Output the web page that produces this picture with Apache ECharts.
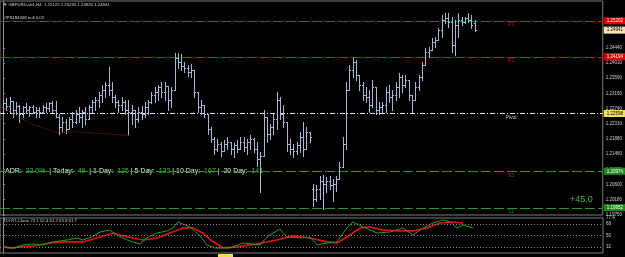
<!DOCTYPE html>
<html>
<head>
<meta charset="utf-8">
<script src="https://cdn.jsdelivr.net/npm/echarts@6.0.0/dist/echarts.min.js"></script>
<style>
  html, body { margin: 0; padding: 0; background: #000; }
  #chart { width: 625px; height: 257px; }
</style>
</head>
<body>
<div id="chart"></div>
<script>
// GBPUSD H4 bars
const opens = [
  1.2277,1.2288,1.2282,1.2296,1.2271,1.2282,1.2257,1.2277,1.2271,1.2277,1.2265,1.2271,
  1.2263,1.2279,1.2274,1.2288,1.2271,1.2251,1.2221,1.2237,1.2215,1.2243,1.2235,1.2257,
  1.2249,1.2265,1.2243,1.2277,1.2291,1.2299,1.2313,1.2327,1.2341,1.2327,1.2305,1.2293,
  1.2285,1.2291,1.2271,1.2263,1.2271,1.2243,1.2265,1.2257,1.2277,1.2293,1.2313,1.2321,
  1.2333,1.2321,1.2338,1.2299,1.2327,1.2417,1.2405,1.2394,1.2389,1.2377,1.2383,1.2321,
  1.2277,1.2285,1.2257,1.2215,1.2187,1.2159,1.2173,1.2153,1.2173,1.2181,1.2159,1.2170,
  1.2159,1.2181,1.2165,1.2179,1.2187,1.2159,1.2131,1.2139,1.2249,1.2201,1.2221,1.2243,
  1.2299,1.2257,1.2237,1.2173,1.2159,1.2153,1.2170,1.2193,1.2159,1.2209,1.2047,1.2019,
  1.2047,1.2069,1.2061,1.2069,1.2058,1.2061,1.2075,1.2109,1.2173,1.2327,1.2383,1.2405,
  1.2369,1.2341,1.2313,1.2305,1.2285,1.2333,1.2271,1.2277,1.2285,1.2321,1.2305,1.2313,
  1.2333,1.2361,1.2341,1.2355,1.2313,1.2299,1.2333,1.2361,1.2397,1.2433,1.2439,1.2461,
  1.2467,1.2495,1.2523,1.2529,1.2517,1.2453,1.2509,1.2523,1.2517,1.2529,1.2523,1.2513
];
const highs = [
  1.2299,1.2302,1.2305,1.2296,1.2291,1.2285,1.2282,1.2288,1.2282,1.2285,1.2279,1.2277,
  1.2285,1.2288,1.2293,1.2296,1.2296,1.2257,1.2249,1.2243,1.2249,1.2265,1.2271,1.2277,
  1.2271,1.2277,1.2285,1.2299,1.2307,1.2321,1.2341,1.2349,1.2391,1.2347,1.2313,1.2299,
  1.2305,1.2299,1.2299,1.2285,1.2271,1.2277,1.2282,1.2291,1.2299,1.2321,1.2333,1.2341,
  1.2347,1.2349,1.2338,1.2333,1.2431,1.2431,1.2428,1.2405,1.2397,1.2400,1.2383,1.2321,
  1.2299,1.2285,1.2257,1.2221,1.2195,1.2187,1.2179,1.2184,1.2193,1.2181,1.2176,1.2184,
  1.2193,1.2195,1.2187,1.2198,1.2190,1.2179,1.2151,1.2271,1.2249,1.2229,1.2257,1.2319,
  1.2305,1.2285,1.2237,1.2187,1.2173,1.2179,1.2209,1.2235,1.2223,1.2209,1.2061,1.2058,
  1.2083,1.2086,1.2081,1.2083,1.2075,1.2083,1.2123,1.2193,1.2347,1.2397,1.2417,1.2411,
  1.2369,1.2349,1.2333,1.2327,1.2355,1.2333,1.2291,1.2293,1.2335,1.2341,1.2327,1.2347,
  1.2375,1.2369,1.2369,1.2355,1.2313,1.2349,1.2369,1.2405,1.2445,1.2447,1.2473,1.2475,
  1.2501,1.2537,1.2543,1.2543,1.2531,1.2523,1.2543,1.2531,1.2531,1.2543,1.2537,1.2524
];
const lows = [
  1.2265,1.2271,1.2263,1.2251,1.2257,1.2235,1.2249,1.2260,1.2254,1.2260,1.2251,1.2249,
  1.2260,1.2265,1.2268,1.2263,1.2249,1.2201,1.2207,1.2204,1.2215,1.2223,1.2232,1.2237,
  1.2221,1.2229,1.2243,1.2263,1.2271,1.2279,1.2291,1.2305,1.2313,1.2291,1.2277,1.2265,
  1.2271,1.2257,1.2201,1.2229,1.2223,1.2237,1.2243,1.2249,1.2257,1.2288,1.2291,1.2299,
  1.2307,1.2299,1.2271,1.2279,1.2327,1.2389,1.2383,1.2377,1.2366,1.2363,1.2307,1.2263,
  1.2257,1.2249,1.2201,1.2181,1.2145,1.2153,1.2139,1.2153,1.2159,1.2145,1.2137,1.2151,
  1.2159,1.2153,1.2145,1.2159,1.2151,1.2111,1.2039,1.2139,1.2179,1.2187,1.2201,1.2215,
  1.2243,1.2223,1.2153,1.2145,1.2137,1.2145,1.2151,1.2139,1.2159,1.2179,1.1999,1.2013,
  1.2019,1.1991,1.2039,1.2047,1.2013,1.2041,1.2075,1.2109,1.2159,1.2327,1.2361,1.2355,
  1.2327,1.2299,1.2291,1.2265,1.2277,1.2257,1.2257,1.2263,1.2263,1.2291,1.2271,1.2299,
  1.2307,1.2321,1.2335,1.2299,1.2263,1.2299,1.2327,1.2355,1.2397,1.2419,1.2439,1.2447,
  1.2467,1.2475,1.2515,1.2503,1.2433,1.2425,1.2475,1.2509,1.2515,1.2517,1.2501,1.2492
];
const closes = [
  1.2288,1.2282,1.2296,1.2271,1.2282,1.2257,1.2277,1.2271,1.2277,1.2265,1.2271,1.2263,
  1.2279,1.2274,1.2288,1.2271,1.2251,1.2221,1.2237,1.2215,1.2243,1.2235,1.2257,1.2249,
  1.2265,1.2243,1.2277,1.2291,1.2299,1.2313,1.2327,1.2341,1.2327,1.2305,1.2293,1.2285,
  1.2291,1.2271,1.2263,1.2271,1.2243,1.2265,1.2257,1.2277,1.2293,1.2313,1.2321,1.2333,
  1.2321,1.2338,1.2299,1.2327,1.2417,1.2405,1.2394,1.2389,1.2377,1.2383,1.2321,1.2277,
  1.2285,1.2257,1.2215,1.2187,1.2159,1.2173,1.2153,1.2173,1.2181,1.2159,1.2170,1.2159,
  1.2181,1.2165,1.2179,1.2187,1.2159,1.2131,1.2139,1.2249,1.2201,1.2221,1.2243,1.2299,
  1.2257,1.2237,1.2173,1.2159,1.2153,1.2170,1.2193,1.2159,1.2209,1.2193,1.2019,1.2047,
  1.2069,1.2061,1.2069,1.2058,1.2061,1.2075,1.2109,1.2173,1.2327,1.2383,1.2405,1.2369,
  1.2341,1.2313,1.2305,1.2285,1.2333,1.2271,1.2277,1.2285,1.2321,1.2305,1.2313,1.2333,
  1.2361,1.2341,1.2355,1.2313,1.2299,1.2333,1.2361,1.2397,1.2433,1.2439,1.2461,1.2467,
  1.2495,1.2523,1.2529,1.2517,1.2453,1.2509,1.2523,1.2517,1.2529,1.2523,1.2509,1.2494
];

// pivot levels drawn across the chart
const levelNames  = ['R1', 'R3', 'Pivot', 'S3', 'S1'];
const levelPrices = [1.25202, 1.24194, 1.22598, 1.20974, 1.19952];
const lastPrice = 1.24941;

// right price scale labels
const priceTicks = [1.24440, 1.24010, 1.23590, 1.23160, 1.22740, 1.22310,
                    1.21880, 1.21460, 1.21030, 1.20600, 1.20180, 1.19750];

// dark red dotted line bottom-left  [bar index, price]
const maLine = [[-0.3, 1.2277], [9, 1.2229], [17, 1.2204], [21, 1.2209], [38.5, 1.2198]];

// TDI sub window  [bar index, value]
const tdiGreen = [
  [0,35.2],[1.2,30.5],[3.6,30.5],[6.1,35.2],[9.1,36.8],[12.1,35.2],[15.2,39.9],[19.4,43],
  [22.4,46.1],[24.2,43],[27,47.7],[29.4,55.5],[32.4,58.6],[34.5,50.8],[37.6,43],[39.4,39.9],
  [41.5,36.8],[43.6,46.1],[46.7,53.9],[49.7,57.1],[51.5,61.8],[53,71.1],[55.2,66.4],[56.7,63.3],
  [59.7,49.3],[61.8,35.2],[64.2,30.5],[68.8,30.5],[72.7,38.3],[77.9,35.2],[80,47.7],[83.9,60.2],
  [86,47.7],[90,46.1],[93,47.7],[95.2,35.2],[98.2,38.3],[101.2,39.9],[104.2,61.8],[106,71.1],
  [109.1,63.3],[113.3,53.9],[117.3,55.5],[121.2,61.8],[124.2,50.8],[127.3,61.8],[130.3,69.6],
  [133.3,74.3],[135.5,71.1],[137.6,61.8],[139.4,66.4],[142.4,61.8]
];
const tdiRed = [
  [0,32.1],[3,30.5],[5.2,32.1],[9.1,33.6],[14.2,38.3],[19.4,39.9],[24.2,39.9],[29.4,47.7],
  [33.3,53.9],[36.4,49.3],[39.4,46.1],[42.4,43],[46.7,46.1],[50.6,53.9],[54.5,61.8],[57.6,61.8],
  [60.6,53.9],[62.7,43.8],[66.7,30.5],[70.9,32.1],[77,36.8],[83,43],[87.9,49.3],[93,46.1],
  [98.2,39.9],[101.2,38.3],[104.2,47.7],[108.2,61.8],[111.2,63.3],[115.2,58.6],[119.4,57.1],
  [124.2,57.1],[128.5,61.8],[132.4,69.6],[135.5,71.1],[139.4,69.6]
];
const tdiLevels = [32, 50, 68];
const tdiTicks = [32, 50, 68, 77.4];

const BAR_COLOR = '#a6b6d6';
const FONT = 'Liberation Sans, Arial, sans-serif';

const bars = opens.map((o, i) => [i, o, highs[i], lows[i], closes[i]]);

// MT4 style OHLC bar: vertical high-low, open tick left, close tick right
function renderBar(params, api) {
  const i = api.value(0);
  const h = api.coord([i, api.value(2)]);
  const l = api.coord([i, api.value(3)]);
  const o = api.coord([i, api.value(1)]);
  const c = api.coord([i, api.value(4)]);
  const x = Math.round(h[0]) + 0.5;
  const yo = Math.round(o[1]) + 0.5;
  const yc = Math.round(c[1]) + 0.5;
  return {
    type: 'group',
    children: [
      { type: 'line', shape: { x1: x, y1: Math.round(h[1]), x2: x, y2: Math.round(l[1]) + 1 }, style: { stroke: BAR_COLOR, lineWidth: 1 } },
      { type: 'line', shape: { x1: x - 1.5, y1: yo, x2: x, y2: yo }, style: { stroke: BAR_COLOR, lineWidth: 1 } },
      { type: 'line', shape: { x1: x, y1: yc, x2: x + 1.5, y2: yc }, style: { stroke: BAR_COLOR, lineWidth: 1 } }
    ]
  };
}

const levelColors = { R1: '#d81818', R3: '#d81818', Pivot: '#e8e8e8', S3: '#28962a', S1: '#28962a' };
const levelDash = { R1: [10, 3], R3: [10, 3], Pivot: [5, 2, 1, 2], S3: [10, 3], S1: [10, 3] };
const tagBg = { R1: '#e00000', R3: '#e00000', Pivot: '#f0e060', S3: '#1e8a1e', S1: '#1e8a1e' };
const tagText = { R1: '#ffffff', R3: '#ffffff', Pivot: '#000000', S3: '#ffffff', S1: '#ffffff' };

// level lines: full width, snapped to a pixel row so they stay crisp
function renderLevel(params, api) {
  const name = levelNames[params.dataIndex];
  const y = Math.round(api.coord([0, api.value(1)])[1]) + 0.5;
  const cs = params.coordSys;
  return {
    type: 'line',
    shape: { x1: cs.x, y1: y, x2: cs.x + cs.width, y2: y },
    style: { stroke: levelColors[name], lineWidth: 1, lineDash: levelDash[name] }
  };
}

// price boxes on the right scale (only the labels of these marklines show)
const priceBoxes = levelNames.map((name, k) => ({
  yAxis: levelPrices[k],
  label: {
    formatter: levelPrices[k].toFixed(5),
    backgroundColor: tagBg[name], color: tagText[name]
  }
}));
priceBoxes.push({
  yAxis: lastPrice,
  label: { formatter: lastPrice.toFixed(5), backgroundColor: '#f2e4b4', color: '#000' }
});

const levelTags = levelNames.map((name, k) => ({
  value: [154, levelPrices[k]],
  label: { formatter: name, color: name === 'Pivot' ? '#e8e8e8' : levelColors[name] }
}));

const chart = echarts.init(document.getElementById('chart'));
chart.setOption({
  backgroundColor: '#000',
  animation: false,
  textStyle: { fontFamily: FONT },
  grid: [
    { left: 0, right: 22, top: 1, height: 214, show: true, borderColor: '#7a7a7a', borderWidth: 1, backgroundColor: '#000' },
    { left: 0, right: 22, top: 218, height: 35, show: true, borderColor: '#7a7a7a', borderWidth: 1, backgroundColor: '#000' }
  ],
  xAxis: [
    { type: 'value', gridIndex: 0, min: -0.9, max: 181.8, show: false },
    { type: 'value', gridIndex: 1, min: -0.9, max: 181.8, show: false }
  ],
  yAxis: [
    {
      type: 'value', gridIndex: 0, position: 'right', min: 1.19745, max: 1.2576,
      axisLine: { show: true, lineStyle: { color: '#8a8a8a' } },
      axisTick: { show: true, length: 2, customValues: priceTicks, lineStyle: { color: '#8a8a8a' } },
      axisLabel: { customValues: priceTicks, formatter: v => v.toFixed(5), color: '#cfcfcf', fontSize: 4.5, margin: 3 },
      splitLine: { show: false }
    },
    {
      type: 'value', gridIndex: 1, position: 'right', min: 22.6, max: 77.4,
      axisLine: { show: true, lineStyle: { color: '#8a8a8a' } },
      axisTick: { show: true, length: 2, customValues: tdiTicks, lineStyle: { color: '#8a8a8a' } },
      axisLabel: { customValues: tdiTicks, formatter: v => (Number.isInteger(v) ? String(v) : v.toFixed(1)), color: '#cfcfcf', fontSize: 4.5, margin: 3 },
      splitLine: { show: false }
    }
  ],
  series: [
    {
      name: 'levels', type: 'custom', xAxisIndex: 0, yAxisIndex: 0, silent: true,
      renderItem: renderLevel, data: levelPrices.map((p, k) => [k, p]), encode: { x: 0, y: 1 }
    },
    {
      name: 'levelTags', type: 'scatter', xAxisIndex: 0, yAxisIndex: 0,
      symbolSize: 0, data: levelTags, silent: true,
      label: { show: true, position: 'inside', offset: [0, 4], fontSize: 5, fontFamily: FONT },
      // precision matters: default (2) would round the prices
      markLine: {
        silent: true, precision: 5, symbol: ['none', 'none'],
        lineStyle: { color: 'rgba(0,0,0,0)', width: 1 },
        label: { show: true, position: 'end', distance: 1, fontSize: 4.5, fontFamily: FONT, padding: [1, 4, 1, 3] },
        data: priceBoxes
      }
    },
    {
      name: 'GBPUSD', type: 'custom', xAxisIndex: 0, yAxisIndex: 0,
      renderItem: renderBar, data: bars, encode: { x: 0, y: [1, 2, 3, 4] }, clip: true
    },
    {
      name: 'ma', type: 'line', xAxisIndex: 0, yAxisIndex: 0, data: maLine,
      showSymbol: false, lineStyle: { color: '#8a1818', width: 1, type: [1, 1] }
    },
    {
      name: 'TDI signal', type: 'line', xAxisIndex: 1, yAxisIndex: 1, data: tdiRed,
      showSymbol: false, lineStyle: { color: '#e01010', width: 1.7 }
    },
    {
      name: 'TDI price', type: 'line', xAxisIndex: 1, yAxisIndex: 1, data: tdiGreen,
      showSymbol: false, lineStyle: { color: '#20a020', width: 1 },
      markLine: {
        silent: true, precision: 2, symbol: ['none', 'none'],
        lineStyle: { color: '#8a8a8a', width: 1, type: [1, 2] },
        label: { show: false },
        data: tdiLevels.map(v => ({ yAxis: v }))
      }
    }
  ],
  graphic: [
    { type: 'text', left: 3, top: 3, style: { text: '▼ GBPUSD-sb1,H4  1.25125 1.25235 1.24920 1.24941', fill: '#d8d8d8', font: '4.3px ' + FONT } },
    { type: 'text', left: 3, top: 16, style: { text: '#IPS184348 null 0.02', fill: '#d8d8d8', font: '4.3px ' + FONT } },
    {
      type: 'text', left: 5, top: 168,
      style: {
        text: 'ADR:  {g|32.0%}  | Today:  {g|49}  | 1 Day:  {g|125} | 5 Day:  {g|133} | 10 Day:  {g|167} |  20 Day:  {g|141}',
        fill: '#e6e6e6', font: '7px ' + FONT,
        rich: { g: { fill: '#3cc03c', font: '7px ' + FONT } }
      }
    },
    { type: 'text', left: 570, top: 195, style: { text: '+45.0', fill: '#3cc03c', font: '9px ' + FONT } },
    { type: 'text', left: 3, top: 219, style: { text: 'TDI RT-Clone 72.1 52.4 61.2 63.9 61.7', fill: '#cfcfcf', font: '4.3px ' + FONT } },
    { type: 'rect', left: 218, top: 254, shape: { width: 15, height: 3 }, style: { fill: '#f0e040' } }
  ]
});
</script>
</body>
</html>
